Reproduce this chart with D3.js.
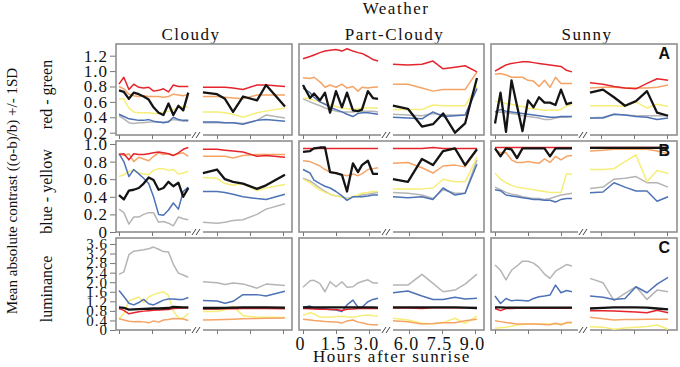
<!DOCTYPE html>
<html>
<head>
<meta charset="utf-8">
<script src="https://cdnjs.cloudflare.com/ajax/libs/d3/7.8.5/d3.min.js"></script>
<style>
    body { margin: 0; background: #fff; }
    svg text { font-family: "Liberation Serif", "Times New Roman", serif; fill: #111; }
</style>
</head>
<body>
<div id="chart"></div>
<script>

// ---- data ----
// every panel array holds the six series in this order
const seriesNames = ['red', 'orange', 'yellow', 'black', 'blue', 'gray'];

const weatherTypes = ['Cloudy', 'Part-Cloudy', 'Sunny'];
const contrastTypes = ['red - green', 'blue - yellow', 'luminance'];
const panelLetters = ['A', 'B', 'C'];

const rgTicks = [0.2, 0.4, 0.6, 0.8, 1.0, 1.2];
const byTicks = [0, 0.2, 0.4, 0.6, 0.8, 1.0];
const lumTicks = [0, 0.4, 0.8, 1.2, 1.6, 2.0, 2.4, 2.8, 3.2, 3.6];
const amHourTicks = [0, 1.5, 3.0];
const pmHourTicks = [6.0, 7.5, 9.0];

// sampling hours after sunrise, morning and afternoon blocks
const cloudyAMHours = [0, 0.22, 0.45, 0.67, 0.9, 1.12, 1.35, 1.57, 1.8, 2.02, 2.25, 2.47, 2.7, 2.92, 3.15];
const partAMHours = [0, 0.32, 0.5, 0.77, 1.0, 1.23, 1.5, 1.77, 2.0, 2.27, 2.5, 2.68, 2.95, 3.18, 3.41];
const sunnyAMHours = [0, 0.25, 0.5, 0.75, 1.0, 1.25, 1.5, 1.75, 2.0, 2.25, 2.5, 2.75, 3.0, 3.25, 3.5];
const cloudyPMHours = [5.36, 6.0, 6.36, 6.73, 7.18, 7.82, 8.23, 9.09];
const partPMHours = [5.27, 5.95, 6.59, 7.09, 7.55, 8.09, 8.55, 9.09];
const sunnyPMHours = [5.5, 6.09, 6.59, 7.09, 7.59, 8.09, 8.55, 9.05];

// red - green
const rgCloudyAM = [
    [0.83,0.92,0.76,0.83,0.79,0.78,0.79,0.74,0.75,0.77,0.73,0.82,0.80,0.80,0.80],
    [0.80,0.77,0.70,0.68,0.67,0.68,0.67,0.67,0.67,0.66,0.67,0.70,0.69,0.68,0.70],
    [0.64,0.64,0.52,0.47,0.46,0.46,0.46,0.45,0.45,0.47,0.48,0.50,0.53,0.54,0.53],
    [0.75,0.73,0.64,0.72,0.70,0.67,0.63,0.53,0.46,0.43,0.58,0.43,0.55,0.49,0.72],
    [0.44,0.41,0.38,0.37,0.36,0.36,0.37,0.35,0.34,0.33,0.34,0.40,0.37,0.36,0.36],
    [0.42,0.38,0.33,0.32,0.33,0.33,0.34,0.34,0.34,0.34,0.35,0.37,0.36,0.35,0.35]
];
const rgCloudyPM = [
    [0.79,0.79,0.79,0.78,0.76,0.82,0.82,0.80],
    [0.67,0.67,0.66,0.65,0.64,0.69,0.69,0.69],
    [0.47,0.47,0.46,0.44,0.40,0.46,0.48,0.52],
    [0.725,0.70,0.64,0.47,0.67,0.62,0.82,0.54],
    [0.34,0.34,0.33,0.33,0.31,0.36,0.37,0.35],
    [0.33,0.33,0.33,0.33,0.32,0.36,0.43,0.39]
];
const rgPartAM = [
    [1.16,1.19,1.21,1.24,1.26,1.27,1.28,1.26,1.29,1.26,1.24,1.23,1.19,1.15,1.13],
    [0.915,0.905,0.92,0.86,0.79,0.82,0.79,0.83,0.78,0.80,0.74,0.79,0.78,0.79,0.795],
    [0.65,0.64,0.62,0.60,0.58,0.56,0.54,0.52,0.51,0.50,0.51,0.52,0.52,0.52,0.52],
    [0.82,0.65,0.71,0.62,0.72,0.46,0.74,0.53,0.72,0.49,0.48,0.50,0.74,0.65,0.64],
    [0.78,0.72,0.66,0.60,0.57,0.53,0.50,0.47,0.44,0.41,0.45,0.46,0.46,0.45,0.44],
    [0.64,0.60,0.58,0.55,0.52,0.50,0.48,0.47,0.47,0.47,0.48,0.48,0.48,0.48,0.47]
];
const rgPartPM = [
    [1.09,1.08,1.09,1.13,1.03,1.05,1.07,0.99],
    [0.83,0.83,0.78,0.74,0.76,0.76,0.76,0.99],
    [0.50,0.50,0.50,0.56,0.55,0.55,0.55,0.80],
    [0.55,0.51,0.28,0.31,0.45,0.20,0.32,0.91],
    [0.40,0.39,0.38,0.47,0.41,0.42,0.43,0.77],
    [0.44,0.43,0.42,0.45,0.43,0.43,0.43,0.78]
];
const rgSunnyAM = [
    [1.00,1.04,1.08,1.10,1.11,1.12,1.12,1.11,1.10,1.09,1.08,1.07,1.06,1.01,0.99],
    [0.96,0.97,0.95,0.92,0.92,0.92,0.88,0.87,0.80,0.88,0.79,0.92,0.84,0.84,0.84],
    [0.61,0.60,0.58,0.57,0.55,0.54,0.52,0.51,0.50,0.49,0.49,0.49,0.50,0.55,0.56],
    [0.32,0.72,0.21,0.88,0.55,0.22,0.62,0.53,0.66,0.59,0.59,0.56,0.76,0.57,0.59],
    [0.47,0.50,0.48,0.47,0.46,0.45,0.44,0.43,0.42,0.41,0.40,0.40,0.41,0.41,0.41],
    [0.46,0.47,0.46,0.45,0.44,0.42,0.41,0.40,0.39,0.37,0.37,0.39,0.40,0.40,0.41]
];
const rgSunnyPM = [
    [0.85,0.83,0.80,0.78,0.77,0.84,0.90,0.88],
    [0.78,0.79,0.79,0.78,0.78,0.78,0.79,0.82],
    [0.55,0.55,0.55,0.54,0.60,0.52,0.57,0.54],
    [0.72,0.76,0.66,0.55,0.61,0.74,0.46,0.42],
    [0.39,0.39,0.44,0.43,0.41,0.40,0.37,0.39],
    [0.39,0.40,0.44,0.43,0.42,0.42,0.42,0.42]
];

// blue - yellow
const byCloudyAM = [
    [0.88,0.89,0.82,0.89,0.88,0.88,0.89,0.90,0.91,0.90,0.89,0.87,0.90,0.94,0.96],
    [0.89,0.87,0.89,0.80,0.85,0.83,0.81,0.86,0.90,0.88,0.89,0.87,0.89,0.90,0.86],
    [0.63,0.65,0.69,0.70,0.67,0.66,0.65,0.70,0.72,0.72,0.70,0.71,0.66,0.67,0.69],
    [0.42,0.37,0.47,0.48,0.50,0.55,0.62,0.59,0.48,0.50,0.57,0.52,0.56,0.40,0.50],
    [0.89,0.80,0.63,0.71,0.66,0.61,0.55,0.40,0.20,0.19,0.25,0.33,0.26,0.46,0.51],
    [0.26,0.22,0.09,0.17,0.17,0.20,0.22,0.22,0.11,0.12,0.10,0.07,0.17,0.15,0.14]
];
const byCloudyPM = [
    [0.94,0.94,0.93,0.92,0.91,0.86,0.87,0.85],
    [0.86,0.86,0.86,0.84,0.87,0.88,0.88,0.88],
    [0.62,0.61,0.55,0.53,0.55,0.47,0.50,0.54],
    [0.67,0.71,0.60,0.57,0.55,0.49,0.53,0.65],
    [0.46,0.46,0.45,0.43,0.40,0.38,0.37,0.43],
    [0.11,0.10,0.11,0.13,0.14,0.20,0.26,0.32]
];
const byPartAM = [
    [0.95,0.95,0.95,0.95,0.95,0.95,0.95,0.95,0.95,0.95,0.95,0.95,0.95,0.95,0.95],
    [0.81,0.80,0.78,0.75,0.71,0.68,0.67,0.65,0.64,0.66,0.64,0.66,0.71,0.72,0.73],
    [0.60,0.56,0.52,0.48,0.45,0.43,0.41,0.40,0.37,0.40,0.42,0.44,0.45,0.46,0.46],
    [0.91,0.92,0.95,0.96,0.96,0.68,0.67,0.65,0.46,0.78,0.68,0.76,0.81,0.66,0.66],
    [0.71,0.67,0.59,0.55,0.52,0.50,0.46,0.41,0.36,0.40,0.40,0.40,0.41,0.42,0.42],
    [0.61,0.58,0.55,0.50,0.46,0.43,0.41,0.40,0.38,0.40,0.41,0.42,0.43,0.44,0.45]
];
const byPartPM = [
    [0.95,0.95,0.95,0.96,0.95,0.95,0.95,0.95],
    [0.78,0.79,0.73,0.67,0.75,0.76,0.74,0.93],
    [0.49,0.49,0.49,0.50,0.60,0.57,0.57,0.85],
    [0.60,0.57,0.83,0.76,0.92,0.95,0.76,0.94],
    [0.40,0.39,0.40,0.37,0.50,0.42,0.44,0.77],
    [0.45,0.44,0.42,0.38,0.48,0.44,0.44,0.82]
];
const bySunnyAM = [
    [0.96,0.96,0.96,0.96,0.96,0.96,0.96,0.96,0.96,0.96,0.96,0.96,0.96,0.96,0.96],
    [0.94,0.90,0.90,0.82,0.79,0.79,0.80,0.79,0.78,0.83,0.79,0.86,0.82,0.86,0.87],
    [0.67,0.60,0.56,0.53,0.51,0.50,0.49,0.48,0.47,0.46,0.45,0.45,0.45,0.66,0.66],
    [0.95,0.86,0.95,0.94,0.84,0.95,0.95,0.95,0.95,0.95,0.86,0.95,0.95,0.95,0.95],
    [0.48,0.47,0.42,0.41,0.40,0.39,0.38,0.37,0.37,0.36,0.36,0.34,0.37,0.38,0.38],
    [0.51,0.48,0.45,0.43,0.42,0.40,0.39,0.38,0.38,0.37,0.38,0.40,0.42,0.43,0.44]
];
const bySunnyPM = [
    [0.96,0.96,0.96,0.96,0.96,0.96,0.96,0.96],
    [0.92,0.93,0.94,0.94,0.94,0.94,0.92,0.89],
    [0.71,0.71,0.72,0.80,0.875,0.57,0.70,0.665],
    [0.955,0.955,0.955,0.955,0.955,0.955,0.955,0.955],
    [0.445,0.455,0.56,0.51,0.465,0.465,0.35,0.40],
    [0.495,0.51,0.60,0.61,0.63,0.56,0.56,0.51]
];

// luminance
const lumCloudyAM = [
    [0.90,0.82,0.68,0.72,0.76,0.79,0.81,0.83,0.84,0.85,0.86,0.90,0.91,0.92,0.92],
    [0.47,0.42,0.37,0.35,0.36,0.34,0.30,0.38,0.33,0.42,0.44,0.48,0.47,0.46,0.40],
    [0.45,0.70,1.22,1.30,1.38,1.15,1.38,1.48,1.55,1.60,1.45,0.80,0.50,0.50,0.70],
    [0.95,0.93,0.85,0.86,0.87,0.88,0.89,0.90,0.90,0.91,0.92,0.97,0.96,0.95,0.95],
    [1.65,1.40,1.12,1.05,1.15,1.28,1.10,1.05,1.15,1.25,1.30,1.30,1.28,1.28,1.36],
    [2.33,2.43,3.15,3.30,3.33,3.36,3.40,3.47,3.38,3.28,3.26,2.75,2.38,2.30,2.21]
];
const lumCloudyPM = [
    [0.88,0.88,0.89,0.89,0.90,0.90,0.90,0.89],
    [0.42,0.43,0.44,0.45,0.47,0.48,0.49,0.50],
    [0.77,0.77,0.85,1.00,0.60,0.54,0.53,0.52],
    [0.92,0.92,0.93,0.94,0.95,0.95,0.95,0.94],
    [1.23,1.21,1.12,1.20,1.48,1.48,1.42,1.62],
    [2.02,1.98,1.90,1.97,1.93,1.75,1.92,1.86]
];
const lumPartAM = [
    [0.90,0.89,0.88,0.87,0.87,0.86,0.86,0.82,0.87,0.88,0.90,0.90,0.90,0.90,0.90],
    [0.45,0.42,0.40,0.38,0.36,0.35,0.33,0.29,0.38,0.42,0.33,0.30,0.24,0.22,0.22],
    [0.62,0.72,0.67,0.54,0.53,0.53,0.56,0.58,0.55,0.53,0.57,0.61,0.63,0.60,0.58],
    [0.95,0.95,0.95,0.95,0.95,0.95,0.95,0.95,0.95,0.95,0.95,0.95,0.95,0.95,0.94],
    [0.95,1.00,0.92,0.90,0.88,0.86,0.84,0.77,1.05,1.25,0.95,0.95,1.18,1.28,1.33],
    [1.79,2.06,2.08,1.94,1.60,2.02,1.81,2.02,1.79,1.81,1.97,2.03,2.10,1.97,1.97]
];
const lumPartPM = [
    [0.92,0.92,0.90,0.93,0.93,0.93,0.93,0.93],
    [0.39,0.35,0.25,0.27,0.30,0.30,0.39,0.45],
    [0.49,0.42,0.28,0.25,0.31,0.49,0.28,0.58],
    [0.95,0.95,0.95,0.95,0.95,0.95,0.94,0.92],
    [1.56,1.63,1.42,1.28,1.28,1.37,1.30,1.33],
    [1.88,1.88,2.33,1.95,1.60,1.67,1.92,2.34]
];
const lumSunnyAM = [
    [0.90,0.81,0.90,0.90,0.91,0.91,0.91,0.91,0.91,0.91,0.91,0.91,0.91,0.91,0.91],
    [0.39,0.35,0.31,0.28,0.25,0.25,0.25,0.25,0.24,0.23,0.22,0.28,0.22,0.31,0.31],
    [0.07,0.09,0.11,0.16,0.21,0.23,0.25,0.25,0.25,0.25,0.25,0.25,0.25,0.28,0.31],
    [0.95,0.95,0.94,0.94,0.94,0.94,0.94,0.94,0.94,0.94,0.94,0.94,0.94,0.94,0.94],
    [1.42,1.11,1.32,1.22,1.25,1.23,1.21,1.32,1.39,1.42,1.46,1.88,1.56,1.65,1.60],
    [2.72,2.50,2.10,2.50,2.68,2.88,2.88,2.80,2.62,2.34,2.16,2.46,2.60,2.74,2.68]
];
const lumSunnyPM = [
    [0.81,0.81,0.79,0.77,0.75,0.72,0.83,0.72],
    [0.53,0.47,0.42,0.44,0.44,0.45,0.45,0.45],
    [0.14,0.12,0.03,0.08,0.11,0.15,0.21,0.03],
    [0.90,0.93,0.95,0.95,0.95,0.94,0.90,0.86],
    [1.42,1.37,1.28,1.32,1.81,1.56,1.92,2.20],
    [2.16,1.98,1.23,1.53,1.81,1.28,1.67,1.60]
];

// ---- layout ----
const width = 680, height = 367;
const colBox = [[116, 292], [299, 484], [491, 677]];
const colZero = [119, 303, 495];     // x of hour 0
const colSix = [217, 409, 601];      // x of hour 6
const colBreak = [197, 387, 584];
const hourSpan = 66;                 // px for 3 hours
const rowBox = [[44, 135], [141, 232], [238, 330]];
const rowDomain = [[0.17, 1.352], [0, 1.034], [0, 3.85]];
const rowTickFont = ['17px', '17px', '15px'];

const colors = {red: '#e5252d', orange: '#f5a466', yellow: '#f6ee78', black: '#141414', blue: '#4e72b6', gray: '#b5b5b5'};
const drawOrder = ['gray', 'yellow', 'blue', 'orange', 'red', 'black'];

const amHours = [cloudyAMHours, partAMHours, sunnyAMHours];
const pmHours = [cloudyPMHours, partPMHours, sunnyPMHours];
const panels = [
    [[rgCloudyAM, rgCloudyPM], [rgPartAM, rgPartPM], [rgSunnyAM, rgSunnyPM]],
    [[byCloudyAM, byCloudyPM], [byPartAM, byPartPM], [bySunnyAM, bySunnyPM]],
    [[lumCloudyAM, lumCloudyPM], [lumPartAM, lumPartPM], [lumSunnyAM, lumSunnyPM]]
];
const rowTicks = [rgTicks, byTicks, lumTicks];

const tickFmt = d => d === 0 ? '0' : d3.format('.1f')(d);

const svg = d3.select('#chart').append('svg')
    .attr('width', width)
    .attr('height', height);

// titles
svg.append('text')
    .attr('x', 396).attr('y', 14)
    .attr('text-anchor', 'middle')
    .style('font-size', '17px').style('letter-spacing', '1.5px')
    .text('Weather');

svg.append('text')
    .attr('transform', 'translate(17,191) rotate(-90)')
    .attr('text-anchor', 'middle')
    .style('font-size', '15px')
    .text('Mean absolute contrast ((o-b)/b) +/- 1SD');

weatherTypes.forEach((w, c) => {
    svg.append('text')
        .attr('x', c === 0 ? 191 : (colBox[c][0] + colBox[c][1]) / 2 + 3)
        .attr('y', 40)
        .attr('text-anchor', 'middle')
        .style('font-size', '17px').style('letter-spacing', '1.5px')
        .text(w);
});

const line = d3.line().x(d => d.x).y(d => d.y);

rowBox.forEach((rb, r) => {
    let y = d3.scaleLinear().domain(rowDomain[r]).range([rb[1], rb[0]]);

    // row label
    svg.append('text')
        .attr('transform', `translate(52,${(rb[0] + rb[1]) / 2 + 5}) rotate(-90)`)
        .attr('text-anchor', 'middle')
        .style('font-size', '16px')
        .text(contrastTypes[r]);

    // y axis on the Cloudy box only
    let yAxis = d3.axisLeft(y).tickValues(rowTicks[r]).tickFormat(tickFmt).tickSize(6).tickPadding(2);
    let ag = svg.append('g')
        .attr('transform', `translate(${colBox[0][0]},0)`)
        .call(yAxis);
    ag.select('.domain').remove();
    ag.selectAll('line').attr('stroke', '#777');
    ag.selectAll('text')
        .style('font-family', '"Liberation Serif", "Times New Roman", serif')
        .style('font-size', rowTickFont[r]).style('letter-spacing', '1px')
        .attr('fill', '#111');

    colBox.forEach((cb, c) => {
        let xAM = d3.scaleLinear().domain([0, 3]).range([colZero[c], colZero[c] + hourSpan]);
        let xPM = d3.scaleLinear().domain([6, 9]).range([colSix[c], colSix[c] + hourSpan]);

        // frame
        svg.append('rect')
            .attr('x', cb[0]).attr('y', rb[0])
            .attr('width', cb[1] - cb[0]).attr('height', rb[1] - rb[0])
            .attr('fill', 'none').attr('stroke', '#8f8f8f').attr('stroke-width', 1.6);

        // bottom ticks
        let g = svg.append('g').attr('transform', `translate(0,${rb[1]})`);
        let showLabels = (r === 2 && c === 1);
        [[xAM, amHourTicks], [xPM, pmHourTicks]].forEach(([sx, tv]) => {
            let ax = d3.axisBottom(sx).tickValues(tv).tickSize(4).tickPadding(3)
                .tickFormat(showLabels ? tickFmt : '');
            let gg = g.append('g').call(ax);
            gg.select('.domain').remove();
            gg.selectAll('line').attr('stroke', '#777');
            gg.selectAll('text')
                .style('font-family', '"Liberation Serif", "Times New Roman", serif')
                .style('font-size', '18px').style('letter-spacing', '1px')
                .attr('dx', '-3')
                .attr('fill', '#111');
        });

        // series lines
        let [am, pm] = panels[r][c];
        drawOrder.forEach(name => {
            let i = seriesNames.indexOf(name);
            let segs = [
                am[i].map((v, k) => ({x: xAM(amHours[c][k]), y: y(v)})),
                pm[i].map((v, k) => ({x: xPM(pmHours[c][k]), y: y(v)}))
            ];
            segs.forEach(s => {
                svg.append('path')
                    .attr('d', line(s))
                    .attr('fill', 'none')
                    .attr('stroke', colors[name])
                    .attr('stroke-width', name === 'black' ? 2.3 : 1.5)
                    .attr('stroke-linejoin', 'round');
            });
        });

        // axis break mark
        let bx = colBreak[c], by = rb[1];
        svg.append('rect')
            .attr('x', bx - 6).attr('y', by - 2)
            .attr('width', 12).attr('height', 4)
            .attr('fill', '#fff');
        [-3, 1].forEach(o => {
            svg.append('line')
                .attr('x1', bx + o - 2).attr('y1', by + 3)
                .attr('x2', bx + o + 2).attr('y2', by - 3)
                .attr('stroke', '#444').attr('stroke-width', 1);
        });
    });

    // panel letter
    svg.append('text')
        .attr('x', 670).attr('y', rb[0] + 15)
        .attr('text-anchor', 'end')
        .style('font-family', '"Liberation Sans", Arial, sans-serif')
        .style('font-weight', 'bold').style('font-size', '16px')
        .text(panelLetters[r]);
});

svg.append('text')
    .attr('x', 392).attr('y', 362)
    .attr('text-anchor', 'middle')
    .style('font-size', '17px').style('letter-spacing', '1.5px')
    .text('Hours after sunrise');

</script>
</body>
</html>
